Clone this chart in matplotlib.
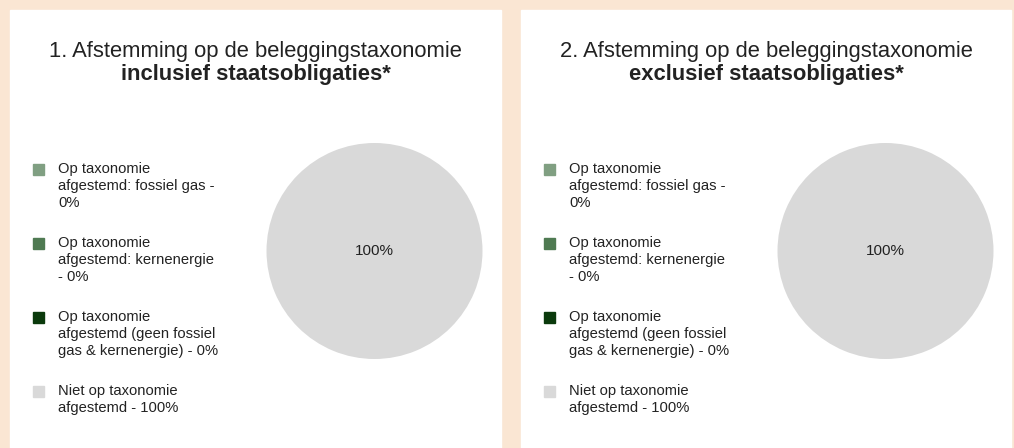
import matplotlib
matplotlib.use("Agg")
import matplotlib.pyplot as plt
import matplotlib.patches as mpatch

W, H = 1014, 448
BEIGE = '#fae6d3'
WHITE = '#ffffff'
TEXT = '#222222'

plt.rcParams['font.family'] = ['Liberation Sans', 'DejaVu Sans']

# data
titles = ['1. Afstemming op de beleggingstaxonomie', '2. Afstemming op de beleggingstaxonomie']
subtitles = ['inclusief staatsobligaties*', 'exclusief staatsobligaties*']
categories = ['Op taxonomie\nafgestemd: fossiel gas -\n0%',
              'Op taxonomie\nafgestemd: kernenergie\n- 0%',
              'Op taxonomie\nafgestemd (geen fossiel\ngas & kernenergie) - 0%',
              'Niet op taxonomie\nafgestemd - 100%']
values_incl = [0, 0, 0, 100]
values_excl = [0, 0, 0, 100]
colors = ['#809f82', '#4f7a52', '#0b3a0c', '#d9d9d9']

fig = plt.figure(figsize=(W / 100, H / 100), dpi=100)
fig.patch.set_facecolor(BEIGE)

# overlay in pixel coords for panels, titles and legends
bg = fig.add_axes([0, 0, 1, 1])
bg.set_xlim(0, W)
bg.set_ylim(H, 0)
bg.axis('off')

panel_x = [10, 521]
panel_w = [491, 490]


def pct(p):
    return f'{p:.0f}%' if p > 0 else ''


for k, vals in enumerate([values_incl, values_excl]):
    x0 = panel_x[k]
    bg.add_patch(mpatch.Rectangle((x0, 10), panel_w[k], H - 10, color=WHITE, zorder=0))
    cx = x0 + panel_w[k] / 2
    bg.text(cx, 57, titles[k], ha='center', va='baseline', fontsize=15.8, color=TEXT)
    bg.text(cx, 80, subtitles[k], ha='center', va='baseline', fontsize=15.8,
            fontweight='bold', color=TEXT)

    # legend
    for i, lab in enumerate(categories):
        yc = 169.5 + i * 74
        bg.add_patch(mpatch.Rectangle((x0 + 23, yc - 5.5), 11, 11, color=colors[i], zorder=2))
        bg.text(x0 + 48, yc - 7, lab, ha='left', va='top', fontsize=10.6,
                color=TEXT, linespacing=1.24)

    # pie
    r = 108
    pcx, pcy = x0 + 364.5, 251
    pax = fig.add_axes([(pcx - r) / W, 1 - (pcy + r) / H, 2 * r / W, 2 * r / H])
    pax.pie(vals, colors=colors, startangle=90, counterclock=False,
            autopct=pct, pctdistance=0, textprops={'fontsize': 11, 'color': TEXT})
    pax.set_xlim(-1, 1)
    pax.set_ylim(-1, 1)
    pax.axis('off')

fig.savefig('out.png', dpi=100, facecolor=BEIGE)
